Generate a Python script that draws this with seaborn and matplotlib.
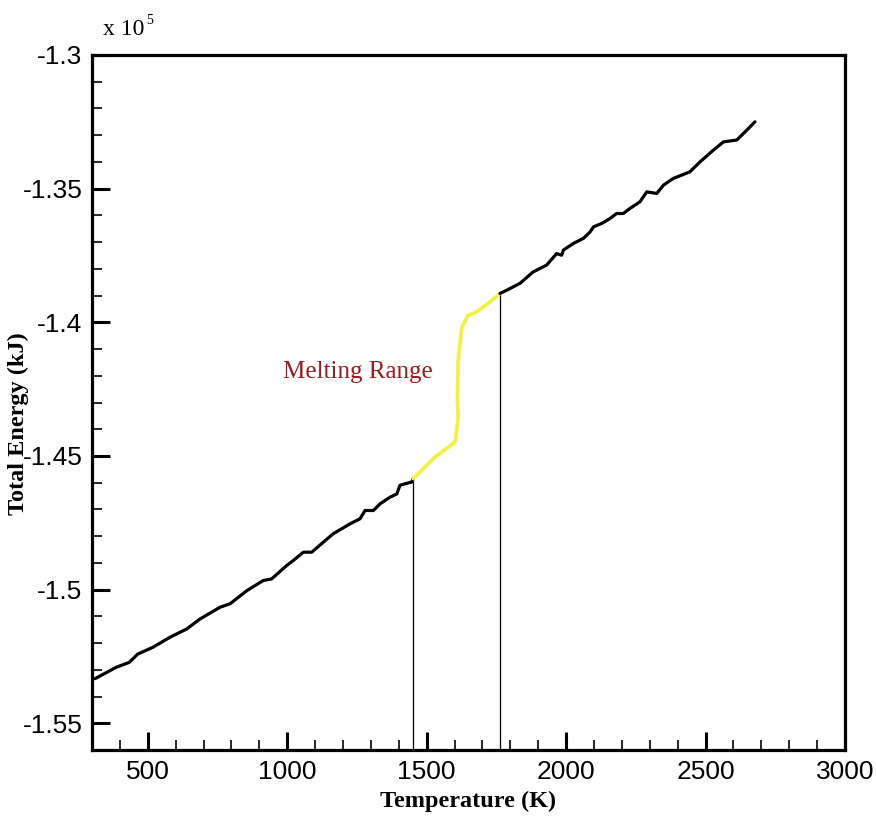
import numpy as np
import pandas as pd
import seaborn as sns
import matplotlib
matplotlib.use("Agg")
import matplotlib.pyplot as plt
from matplotlib.ticker import FixedLocator, FixedFormatter, MultipleLocator

# ---- data (energy in units of 1e5 kJ) ----
solid_T = [311, 386, 434, 464, 518, 580, 640, 687, 759, 795, 855, 914, 944, 998,
           1022, 1058, 1088, 1129, 1165, 1225, 1261, 1279, 1309, 1333, 1369, 1393,
           1404, 1422, 1446, 1452]
solid_E = [-1.5333, -1.5291, -1.5272, -1.5241, -1.5216, -1.5178, -1.5147, -1.5110,
           -1.5066, -1.5053, -1.5004, -1.4966, -1.4960, -1.4910, -1.4891, -1.4860,
           -1.4860, -1.4823, -1.4791, -1.4754, -1.4735, -1.4704, -1.4704, -1.4679,
           -1.4654, -1.4642, -1.4610, -1.4604, -1.4598, -1.4585]

melt_T = [1452, 1530, 1578, 1602, 1613, 1610, 1613, 1626, 1649, 1679, 1727, 1763]
melt_E = [-1.4585, -1.4504, -1.4467, -1.4448, -1.4355, -1.4292, -1.4142, -1.4018,
          -1.3974, -1.3961, -1.3924, -1.3892]

liquid_T = [1763, 1787, 1835, 1881, 1930, 1966, 1984, 1990, 2026, 2062, 2086, 2098,
            2128, 2157, 2181, 2205, 2229, 2265, 2289, 2325, 2349, 2384, 2444, 2480,
            2528, 2564, 2612, 2648, 2677]
liquid_E = [-1.3892, -1.3880, -1.3854, -1.3812, -1.3786, -1.3743, -1.3749, -1.3730,
            -1.3705, -1.3686, -1.3662, -1.3643, -1.3630, -1.3612, -1.3593, -1.3593,
            -1.3574, -1.3549, -1.3512, -1.3518, -1.3487, -1.3462, -1.3437, -1.3400,
            -1.3356, -1.3325, -1.3318, -1.3281, -1.3250]

melt_bounds_T = [1452, 1763]
melt_bounds_E = [-1.4585, -1.3892]

xticks = [500, 1000, 1500, 2000, 2500, 3000]
xtick_labels = ["500", "1000", "1500", "2000", "2500", "3000"]
yticks = [-1.55, -1.5, -1.45, -1.4, -1.35, -1.3]
ytick_labels = ["-1.55", "-1.5", "-1.45", "-1.4", "-1.35", "-1.3"]

x_label = "Temperature (K)"
y_label = "Total Energy (kJ)"
annotation = "Melting Range"

# ---- plot ----
sns.set_style("ticks")
plt.rcParams["font.family"] = ["Liberation Sans", "DejaVu Sans"]
for key in ["text.color", "axes.labelcolor", "xtick.color", "ytick.color"]:
    plt.rcParams[key] = "black"

fig = plt.figure(figsize=(8.76, 8.21), dpi=100)
ax = fig.add_axes([92 / 876, 1 - 750 / 821, 753 / 876, 695 / 821])

solid = pd.DataFrame({"T": solid_T, "E": solid_E})
melt = pd.DataFrame({"T": melt_T, "E": melt_E})
liquid = pd.DataFrame({"T": liquid_T, "E": liquid_E})

ymin = -1.56
for bT, bE in zip(melt_bounds_T, melt_bounds_E):
    ax.vlines(bT, ymin, bE, colors="black", linewidth=0.9, zorder=1)

sns.lineplot(data=solid, x="T", y="E", sort=False, estimator=None, color="black",
             linewidth=2.3, ax=ax, zorder=3)
sns.lineplot(data=melt, x="T", y="E", sort=False, estimator=None, color="#F2F23A",
             linewidth=2.6, ax=ax, zorder=3)
sns.lineplot(data=liquid, x="T", y="E", sort=False, estimator=None, color="black",
             linewidth=2.3, ax=ax, zorder=3)

ax.set_xlim(300, 3000)
ax.set_ylim(ymin, -1.3)

ax.xaxis.set_major_locator(FixedLocator(xticks))
ax.xaxis.set_major_formatter(FixedFormatter(xtick_labels))
ax.xaxis.set_minor_locator(MultipleLocator(100))
ax.yaxis.set_major_locator(FixedLocator(yticks))
ax.yaxis.set_major_formatter(FixedFormatter(ytick_labels))
ax.yaxis.set_minor_locator(MultipleLocator(0.01))

ax.tick_params(which="major", direction="in", length=13, width=2.2,
               labelsize=19, pad=7, top=False, right=False, colors="black")
ax.tick_params(which="minor", direction="in", length=7, width=1.2,
               top=False, right=False, colors="black")
for sp in ax.spines.values():
    sp.set_linewidth(2.3)
    sp.set_color("black")

ax.set_xlabel("")
ax.set_ylabel("")
fig.text(468 / 876, 1 - 801 / 821, x_label, ha="center", va="center",
         family=["Liberation Serif"], fontweight="bold", fontsize=17.5)
fig.text(18 / 876, 1 - 424 / 821, y_label, ha="center", va="center", rotation=90,
         family=["Liberation Serif"], fontweight="bold", fontsize=17.5)

fig.text(103 / 876, 1 - 35 / 821, "x 10", ha="left", va="baseline",
         family=["Liberation Serif"], fontsize=17)
fig.text(146 / 876, 1 - 24 / 821, "5", ha="left", va="baseline",
         family=["Liberation Serif"], fontsize=10)

ax.text(985, -1.4187, annotation, ha="left", va="center", color="#9E1A1E",
        family=["Liberation Serif"], fontsize=18)

fig.savefig("out.png", dpi=100)
